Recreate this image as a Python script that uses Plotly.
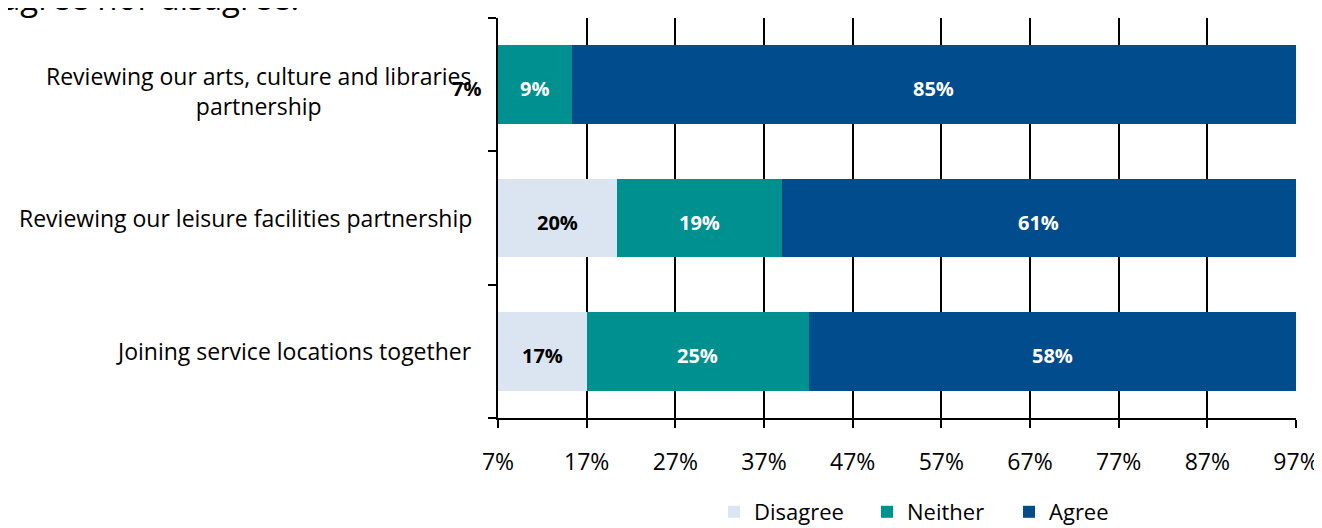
import plotly.graph_objects as go

# survey statements, top to bottom
statements = [
    "Reviewing our arts, culture and libraries<br>partnership",
    "Reviewing our leisure facilities partnership",
    "Joining service locations together",
]
disagree = [6.6, 20.4, 17.0]
neither = [8.7, 18.6, 25.1]
agree = [84.7, 61.0, 57.9]

series = [
    ("Disagree", disagree, "#DBE5F1", "black", 108),
    ("Neither", neither, "#009090", "white", 97),
    ("Agree", agree, "#004C8C", "white", 70),
]

x_ticks = [7, 17, 27, 37, 47, 57, 67, 77, 87, 97]
x_min, x_max = 7, 97

FONT = "Open Sans, sans-serif"

fig = go.Figure()

for name, vals, color, _, lw in series:
    fig.add_trace(go.Bar(
        y=statements,
        x=vals,
        name=name,
        orientation="h",
        marker=dict(color=color, line=dict(width=0)),
        legendwidth=lw,
    ))

# value labels, centred on the visible part of each segment
annotations = []
for i, stmt in enumerate(statements):
    start = 0
    for name, vals, _, txt_color, _ in series:
        end = start + vals[i]
        lo, hi = max(start, x_min), min(end, x_max)
        label = "<b>%d%%</b>" % round(vals[i])
        if hi <= lo:
            annotations.append(dict(
                x=x_min, y=stmt, xref="x", yref="y", text=label,
                showarrow=False, xanchor="right", xshift=-15, yshift=-4,
                font=dict(size=20, color="black", family=FONT),
            ))
        else:
            annotations.append(dict(
                x=(lo + hi) / 2, y=stmt, xref="x", yref="y", text=label,
                showarrow=False, yshift=-4,
                font=dict(size=20, color=txt_color, family=FONT),
            ))
        start = end

# category labels (centred lines, right edge near the axis)
for stmt in statements:
    annotations.append(dict(
        x=0, y=stmt, xref="paper", yref="y", text=stmt,
        showarrow=False, xanchor="right", align="center", xshift=-24,
        yshift=-6 if "<br>" in stmt else 0,
        font=dict(size=23, color="black", family=FONT),
    ))

# title, partly cut at the top of the page
annotations.append(dict(
    x=0, y=1.0525, xref="paper", yref="paper", text="agree nor disagree.",
    showarrow=False, xanchor="left", yanchor="middle", xshift=-498,
    font=dict(size=33, color="black", family=FONT),
))

fig.update_layout(
    barmode="stack",
    bargap=0.41,
    width=1314,
    height=520,
    margin=dict(l=490, r=26, t=10, b=110, autoexpand=False),
    paper_bgcolor="white",
    plot_bgcolor="white",
    font=dict(family=FONT, size=20, color="black"),
    showlegend=True,
    legend=dict(
        orientation="h", x=0.2707, xanchor="left", y=-0.235, yanchor="middle",
        font=dict(size=22, family=FONT), traceorder="normal",
    ),
    annotations=annotations,
)

fig.update_xaxes(
    range=[x_min, x_max],
    tickvals=x_ticks,
    ticktext=["%d%%" % v for v in x_ticks],
    showgrid=True, gridcolor="black", gridwidth=2,
    showline=True, linecolor="black", linewidth=2,
    ticks="outside", ticklen=8, tickwidth=2, tickcolor="black",
    ticklabelstandoff=14, ticklabeloverflow="allow",
    zeroline=False,
    tickfont=dict(size=23, family=FONT),
)
fig.update_yaxes(
    categoryorder="array", categoryarray=statements[::-1],
    showticklabels=False,
    showline=True, linecolor="black", linewidth=2,
    ticks="outside", ticklen=8, tickwidth=2, tickcolor="black",
    tickson="boundaries",
    showgrid=False, zeroline=False,
)

fig.write_html("out.html")
